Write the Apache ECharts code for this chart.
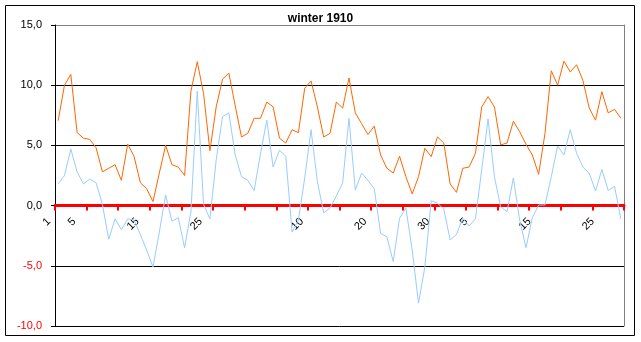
<!DOCTYPE html>
<html><head><meta charset="utf-8">
<script src="https://cdn.jsdelivr.net/npm/echarts@6/dist/echarts.min.js"></script>
<style>html,body{margin:0;padding:0;background:#fff}#c{width:641px;height:342px}</style>
</head><body><div id="c"></div>
<script>
// Day-of-month categories: December 1909, January 1910, February 1910
const decDays = ['1','2','3','4','5','6','7','8','9','10','11','12','13','14','15','16','17','18','19','20','21','22','23','24','25','26','27','28','29','30','31'];
const janDays = ['1','2','3','4','5','6','7','8','9','10','11','12','13','14','15','16','17','18','19','20','21','22','23','24','25','26','27','28','29','30','31'];
const febDays = ['1','2','3','4','5','6','7','8','9','10','11','12','13','14','15','16','17','18','19','20','21','22','23','24','25','26','27','28'];
const categories = decDays.concat(janDays, febDays);
// indices of categories whose label is printed
const shownLabels = [0, 4, 14, 24, 40, 50, 60, 66, 76, 86];

// orange series (daily maximum)
const tMax = [7.05,10.0,10.9,6.06,5.6,5.5,4.8,2.8,3.1,3.4,
  2.1,5.1,4.1,1.9,1.4,0.33,2.7,5.0,3.4,3.2,
  2.5,9.5,11.95,9.3,4.56,8.2,10.5,11.0,8.3,5.7,
  6.0,7.25,7.25,8.6,8.2,5.6,5.2,6.3,6.06,9.75,
  10.35,8.2,5.7,6.0,8.6,8.1,10.6,7.7,6.8,5.9,
  6.6,4.2,3.1,2.7,4.1,2.4,0.97,2.4,4.76,4.07,
  5.7,5.2,1.8,1.1,3.1,3.2,4.35,8.2,9.05,8.2,
  5.04,5.2,7.0,6.14,5.1,4.2,2.6,6.0,11.2,10.0,
  12.0,11.1,11.7,10.4,8.1,7.1,9.46,7.7,8.0,7.25];
// light blue series (daily minimum)
const tMin = [1.8,2.5,4.7,2.8,1.8,2.2,1.9,0.1,-2.8,-1.1,
  -2.0,-1.1,-1.2,-2.4,-3.7,-5.1,-2.2,0.9,-1.3,-1.0,
  -3.5,-0.5,9.5,0.1,-1.1,3.8,7.4,7.7,4.2,2.4,
  2.1,1.25,4.3,7.1,3.2,4.6,4.1,-2.2,-1.2,2.3,
  6.3,2.0,-0.6,-0.2,0.8,1.9,7.25,1.3,2.7,2.1,
  1.4,-2.3,-2.6,-4.65,-1.05,-0.2,-3.7,-8.1,-5.1,0.4,
  0.2,-0.3,-2.85,-2.4,-1.05,-1.7,-1.1,3.0,7.2,2.4,
  -0.1,-0.5,2.3,-1.2,-3.5,-1.0,0.05,0.05,2.4,4.95,
  4.2,6.3,4.35,3.2,2.7,1.2,3.0,1.25,1.6,-1.1];

const yMin = -10, yMax = 15, yStep = 5;
const FONT = '"Liberation Sans", Arial, sans-serif';
const W = 641, H = 342;
const gridLeft = 55, gridRight = 17, gridTop = 25, gridBottom = 16;
const plotH = H - gridTop - gridBottom;
// the category axis sits on the zero line
const zeroOffset = -plotH * (0 - yMin) / (yMax - yMin);

const chart = echarts.init(document.getElementById('c'), null, {renderer: 'canvas'});
chart.setOption({
  animation: false,
  backgroundColor: '#fff',
  title: {
    text: 'winter 1910', left: 'center', top: 8,
    textStyle: {fontSize: 12, fontWeight: 'bold', color: '#000', fontFamily: FONT}
  },
  graphic: [{
    type: 'rect', z: 100, silent: true,
    shape: {x: 5.5, y: 5.5, width: 629, height: 330},
    style: {fill: null, stroke: '#000', lineWidth: 1}
  }],
  grid: {left: gridLeft, right: gridRight, top: gridTop, bottom: gridBottom,
         containLabel: false, outerBoundsMode: 'none'},
  xAxis: {
    type: 'category', data: categories, boundaryGap: true,
    position: 'bottom', offset: zeroOffset,
    axisLine: {onZero: false, lineStyle: {color: '#ff0000', width: 3}},
    axisTick: {show: true, interval: 4, length: 5, lineStyle: {color: '#ff0000', width: 2}},
    axisLabel: {
      interval: function (i) { return shownLabels.indexOf(i) >= 0; },
      rotate: 45, fontSize: 11, color: '#000', margin: 5, fontFamily: FONT,
      padding: [0, 13, 0, 0]
    },
    splitLine: {show: false}
  },
  yAxis: [{
    type: 'value', min: yMin, max: yMax, interval: yStep,
    axisLine: {show: true, lineStyle: {color: '#000', width: 1}},
    axisTick: {show: true, length: 4, lineStyle: {color: '#000'}},
    axisLabel: {
      fontSize: 11, margin: 13, fontFamily: FONT,
      formatter: function (v) { return Number(v).toFixed(1).replace('.', ','); },
      color: function (v) { return Number(v) < 0 ? '#ff0000' : '#000'; }
    },
    splitLine: {show: true, lineStyle: {color: ['#000', '#000', '#000', '#000', '#000', '#808080'], width: 1}}
  }, {
    type: 'value', min: yMin, max: yMax, interval: yStep, position: 'right',
    axisLine: {show: true, lineStyle: {color: '#808080', width: 1}},
    axisTick: {show: false}, axisLabel: {show: false}, splitLine: {show: false}
  }],
  series: [{
    name: 'min', type: 'line', data: tMin, showSymbol: false, symbol: 'none',
    lineStyle: {color: '#99ccff', width: 1}, itemStyle: {color: '#99ccff'}, z: 3
  }, {
    name: 'max', type: 'line', data: tMax, showSymbol: false, symbol: 'none',
    lineStyle: {color: '#ff6600', width: 1}, itemStyle: {color: '#ff6600'}, z: 4
  }]
});
</script>
</body></html>
